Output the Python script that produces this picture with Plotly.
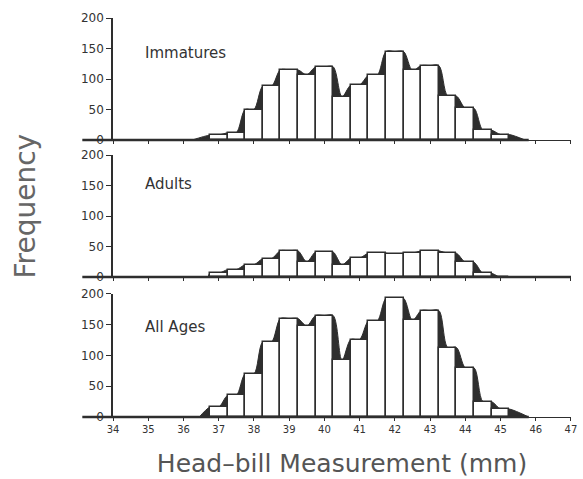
import plotly.graph_objects as go

# ---------------- data ----------------
bins = [37.0, 37.5, 38.0, 38.5, 39.0, 39.5, 40.0, 40.5, 41.0, 41.5,
        42.0, 42.5, 43.0, 43.5, 44.0, 44.5, 45.0]
immatures = [8, 12, 50, 88, 115, 107, 120, 71, 90, 106, 145, 114, 122, 72, 52, 16, 9]
adults = [6, 12, 20, 30, 43, 25, 41, 20, 31, 39, 37, 39, 43, 39, 24, 6, 0]
all_ages = [16, 35, 70, 122, 160, 148, 165, 92, 126, 156, 193, 157, 173, 113, 80, 25, 13]
panel_labels = ["Immatures", "Adults", "All Ages"]
x_ticks = list(range(34, 48))
y_ticks = [0, 50, 100, 150, 200]

INK = "#2e2e2e"
BIN_W = 0.5

# panel vertical domains (paper)
domains = [(0.6942, 1.0), (0.3509, 0.6566), (0.0, 0.3083)]
series = [immatures, adults, all_ages]
leads = [0.5, 0.05, 0.3]
tails = [0.45, 0.2, 0.55]


def envelope(xs, vs, lead, tail):
    half = BIN_W / 2
    n = len(vs)
    while n > 0 and vs[n - 1] == 0:
        n -= 1
    px = [xs[0] - half - lead]
    py = [0]
    prev = 0
    for i in range(n):
        px.append(xs[i] - half)
        py.append(max(prev, vs[i]))
        px.append(xs[i])
        py.append(vs[i])
        prev = vs[i]
    px.append(xs[n - 1] + half)
    py.append(vs[n - 1])
    px.append(xs[n - 1] + half + tail)
    py.append(0)
    return px, py


fig = go.Figure()
layout = dict(
    width=583, height=479,
    margin=dict(l=113, r=6, t=18, b=62),
    paper_bgcolor="white", plot_bgcolor="white",
    showlegend=False,
    font=dict(family="DejaVu Sans", color="#333333"),
)

annotations = []
shapes = []
for k, (vals, dom) in enumerate(zip(series, domains)):
    i = k + 1
    xs_name = "x" if i == 1 else f"x{i}"
    ys_name = "y" if i == 1 else f"y{i}"
    yo_name = f"y{i + 3}"
    ex, ey = envelope(bins, vals, leads[k], tails[k])
    fig.add_trace(go.Scatter(
        x=ex, y=ey, mode="lines", line=dict(color=INK, width=1, shape="spline", smoothing=0.9),
        fill="tozeroy", fillcolor=INK, xaxis=xs_name, yaxis=ys_name, hoverinfo="skip"))
    fig.add_trace(go.Bar(
        x=bins, y=vals, width=BIN_W, marker=dict(color="white", line=dict(color=INK, width=1.5)),
        xaxis=xs_name, yaxis=yo_name))

    bottom = (k == 2)
    layout["xaxis" if i == 1 else f"xaxis{i}"] = dict(
        domain=[0, 1], anchor=ys_name, range=[33.999, 47.001],
        tickvals=x_ticks, ticktext=[str(t) for t in x_ticks],
        showticklabels=bottom, ticks="outside", ticklen=3, tickcolor=INK,
        ticklabeloverflow="allow",
        showline=True, linecolor=INK, linewidth=1, showgrid=False, zeroline=False,
        tickfont=dict(size=10, color="#333333"),
        title=dict(text="Head\u2013bill Measurement (mm)" if bottom else "",
                   font=dict(size=25, color="#555555"), standoff=20),
    )
    layout["yaxis" if i == 1 else f"yaxis{i}"] = dict(
        domain=list(dom), anchor=xs_name, range=[0, 200],
        tickvals=y_ticks, ticks="outside", ticklen=5, tickcolor=INK,
        showline=True, linecolor=INK, linewidth=1.5, showgrid=False, zeroline=False,
        tickfont=dict(size=12, color="#333333"),
    )
    layout[f"yaxis{i + 3}"] = dict(
        overlaying=ys_name, anchor=xs_name, range=[0, 200], visible=False,
    )
    annotations.append(dict(
        x=34.84, y=[142, 152, 146][k], xref=xs_name, yref=ys_name, text=panel_labels[k],
        showarrow=False, xanchor="left", yanchor="middle",
        font=dict(size=15, color="#333333")))
    end_x = 47 if k == 1 else 45.8
    shapes.append(dict(
        type="line", xref="paper", yref="paper",
        x0=-0.067, x1=(end_x - 34) / 13, y0=dom[0], y1=dom[0],
        line=dict(color=INK, width=2.5)))

annotations.append(dict(
    x=-0.19, y=0.53, xref="paper", yref="paper", text="Frequency", textangle=-90,
    showarrow=False, xanchor="center", yanchor="middle",
    font=dict(size=28, color="#666666")))

layout["annotations"] = annotations
layout["shapes"] = shapes
layout["bargap"] = 0
fig.update_layout(**layout)
fig.write_html(
    "out.html",
    config={"displayModeBar": False},
    post_script="document.body.style.margin='0';document.body.style.padding='0';",
)
